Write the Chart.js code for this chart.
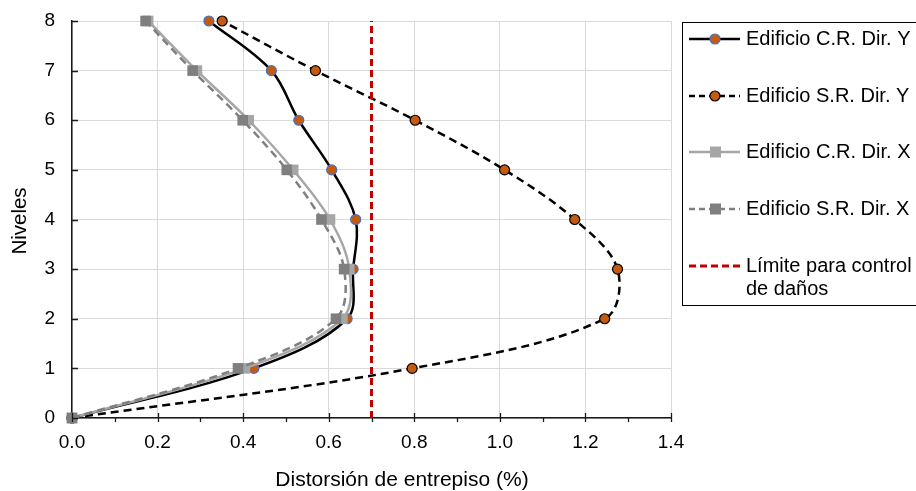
<!DOCTYPE html>
<html>
<head>
<meta charset="utf-8">
<script src="https://cdn.jsdelivr.net/npm/chart.js@4"></script>
<style>
  html, body { margin: 0; padding: 0; background: #fff; }
  #wrap { width: 916px; height: 491px; position: relative; }
</style>
</head>
<body>
<div id="wrap"><canvas id="chart" width="916" height="491"></canvas></div>
<script>
// datos
const niveles = [0, 1, 2, 3, 4, 5, 6, 7, 8];
const crDirY = [0, 0.425, 0.643, 0.657, 0.663, 0.607, 0.530, 0.466, 0.320];
const srDirY = [0, 0.795, 1.245, 1.275, 1.175, 1.011, 0.802, 0.569, 0.351];
const crDirX = [0, 0.404, 0.632, 0.648, 0.603, 0.517, 0.413, 0.292, 0.178];
const srDirX = [0, 0.388, 0.617, 0.636, 0.583, 0.502, 0.399, 0.282, 0.172];
const limite = 0.7;
const xTicks = [0, 0.2, 0.4, 0.6, 0.8, 1.0, 1.2, 1.4];
const yTicks = [0, 1, 2, 3, 4, 5, 6, 7, 8];

const FONT = "'Liberation Sans', Arial, sans-serif";
const ORANGE = '#C55A11';

const pts = (xs) => xs.map((x, i) => ({ x: x, y: niveles[i] }));

// leyenda (texto, estilo de línea, marcador)
const legendItems = [
  { text: ['Edificio C.R. Dir. Y'], color: '#000', dash: [], width: 2.5, marker: 'circle', fill: ORANGE, stroke: '#4472C4' },
  { text: ['Edificio S.R. Dir. Y'], color: '#000', dash: [6, 4], width: 2.5, marker: 'circle', fill: ORANGE, stroke: '#000' },
  { text: ['Edificio C.R. Dir. X'], color: '#A6A6A6', dash: [], width: 2.5, marker: 'rect', fill: '#A6A6A6' },
  { text: ['Edificio S.R. Dir. X'], color: '#7F7F7F', dash: [6, 4], width: 2.5, marker: 'rect', fill: '#7F7F7F' },
  { text: ['Límite para control', 'de daños'], color: '#C00000', dash: [7, 4], width: 3, marker: null }
];

const extras = {
  id: 'extras',
  afterDraw(chart) {
    const ctx = chart.ctx;
    const xs = chart.scales.x, ys = chart.scales.y;
    const a = chart.chartArea;
    ctx.save();
    // marcas de los ejes
    ctx.strokeStyle = '#1a1a1a';
    ctx.lineWidth = 1.3;
    ctx.beginPath();
    for (let v = 0; v <= 14; v++) {
      const px = Math.round(xs.getPixelForValue(v / 10)) + 0.5;
      if (v % 2 === 0) { ctx.moveTo(px, a.bottom - 5); ctx.lineTo(px, a.bottom + 4); }
      else { ctx.moveTo(px, a.bottom); ctx.lineTo(px, a.bottom + 4); }
    }
    yTicks.forEach(v => {
      const py = Math.round(ys.getPixelForValue(v)) + 0.5;
      ctx.moveTo(a.left, py); ctx.lineTo(a.left + 6, py);
    });
    ctx.stroke();

    // títulos de ejes
    ctx.fillStyle = '#000';
    ctx.textAlign = 'center';
    ctx.textBaseline = 'middle';
    ctx.font = '21px ' + FONT;
    ctx.fillText('Distorsión de entrepiso (%)', 402, 480);
    ctx.save();
    ctx.font = '20.5px ' + FONT;
    ctx.translate(20, 221);
    ctx.rotate(-Math.PI / 2);
    ctx.fillText('Niveles', 0, 0);
    ctx.restore();

    // leyenda
    ctx.strokeStyle = '#000';
    ctx.lineWidth = 1;
    ctx.strokeRect(682.5, 22.5, 260, 283);
    const rows = [39, 96, 152, 209, 266];
    ctx.textAlign = 'left';
    ctx.font = '20px ' + FONT;
    legendItems.forEach((it, i) => {
      const y = rows[i];
      ctx.save();
      ctx.strokeStyle = it.color;
      ctx.lineWidth = it.width;
      ctx.setLineDash(it.dash);
      ctx.beginPath();
      ctx.moveTo(689, y); ctx.lineTo(740, y);
      ctx.stroke();
      ctx.restore();
      if (it.marker === 'circle') {
        ctx.beginPath();
        ctx.arc(715, y, 5, 0, Math.PI * 2);
        ctx.fillStyle = it.fill; ctx.fill();
        ctx.strokeStyle = it.stroke; ctx.lineWidth = 1.2; ctx.stroke();
      } else if (it.marker === 'rect') {
        ctx.fillStyle = it.fill;
        ctx.fillRect(710, y - 5.5, 11, 11);
      }
      ctx.fillStyle = '#000';
      it.text.forEach((t, j) => ctx.fillText(t, 746, y + j * 23));
    });
    ctx.restore();
  }
};

new Chart(document.getElementById('chart').getContext('2d'), {
  type: 'scatter',
  data: {
    datasets: [
      { label: 'Edificio C.R. Dir. Y', data: pts(crDirY), showLine: true, order: 4,
        borderColor: '#000', borderWidth: 2.5, tension: 0.35,
        pointStyle: 'circle', pointRadius: 5, pointBackgroundColor: ORANGE,
        pointBorderColor: '#4472C4', pointBorderWidth: 1.2, clip: false },
      { label: 'Edificio S.R. Dir. Y', data: pts(srDirY), showLine: true, order: 3,
        borderColor: '#000', borderWidth: 2.5, borderDash: [8, 5], tension: 0.35,
        pointStyle: 'circle', pointRadius: 5, pointBackgroundColor: ORANGE,
        pointBorderColor: '#000', pointBorderWidth: 1.2, clip: false },
      { label: 'Edificio C.R. Dir. X', data: pts(crDirX), showLine: true, order: 2,
        borderColor: '#A6A6A6', borderWidth: 2.5, tension: 0.35,
        pointStyle: 'rect', pointRadius: 7.5, pointBackgroundColor: '#A6A6A6',
        pointBorderWidth: 0, clip: false },
      { label: 'Edificio S.R. Dir. X', data: pts(srDirX), showLine: true, order: 1,
        borderColor: '#7F7F7F', borderWidth: 2.5, borderDash: [8, 5], tension: 0.35,
        pointStyle: 'rect', pointRadius: 7.5, pointBackgroundColor: '#7F7F7F',
        pointBorderWidth: 0, clip: false },
      { label: 'Límite para control de daños', data: [{ x: limite, y: 0 }, { x: limite, y: 8 }],
        showLine: true, order: 0, borderColor: '#C00000', borderWidth: 3,
        borderDash: [7, 4], pointRadius: 0 }
    ]
  },
  options: {
    responsive: false,
    animation: false,
    layout: { autoPadding: false, padding: { top: 21, right: 245, bottom: 0, left: 0 } },
    plugins: { legend: { display: false }, tooltip: { enabled: false } },
    scales: {
      x: {
        type: 'linear', min: 0, max: 1.4,
        afterBuildTicks: (s) => { s.ticks = xTicks.map(v => ({ value: v })); },
        afterFit: (s) => { s.height = 73; s.paddingLeft = 0; s.paddingRight = 0; },
        ticks: { callback: (v) => v.toFixed(1), color: '#000', padding: 13,
                 font: { family: FONT, size: 19 }, maxRotation: 0 },
        grid: { color: '#D9D9D9', lineWidth: 1, drawTicks: false },
        border: { color: '#1a1a1a', width: 1.5 }
      },
      y: {
        type: 'linear', min: 0, max: 8,
        afterBuildTicks: (s) => { s.ticks = yTicks.map(v => ({ value: v })); },
        afterFit: (s) => { s.width = 72; s.paddingTop = 0; s.paddingBottom = 0; },
        ticks: { color: '#000', padding: 17, font: { family: FONT, size: 19 } },
        grid: { color: '#D9D9D9', lineWidth: 1, drawTicks: false },
        border: { color: '#1a1a1a', width: 1.5 }
      }
    }
  },
  plugins: [extras]
});
</script>
</body>
</html>
